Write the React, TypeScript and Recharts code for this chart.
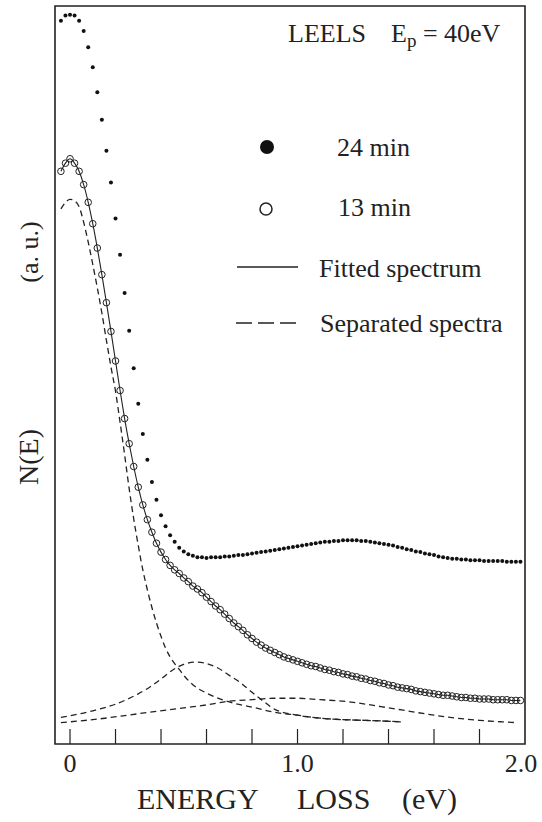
import { ComposedChart, Line, XAxis, YAxis, ReferenceArea } from 'recharts'

// energy grid of the measured points (eV)
const energy = [
  -0.04, -0.02, 0, 0.02, 0.04, 0.06, 0.08, 0.1, 0.12, 0.14,
  0.16, 0.18, 0.2, 0.22, 0.24, 0.26, 0.28, 0.3, 0.32, 0.34,
  0.36, 0.38, 0.4, 0.42, 0.44, 0.46, 0.48, 0.5, 0.52, 0.54,
  0.56, 0.58, 0.6, 0.62, 0.64, 0.66, 0.68, 0.7, 0.72, 0.74,
  0.76, 0.78, 0.8, 0.82, 0.84, 0.86, 0.88, 0.9, 0.92, 0.94,
  0.96, 0.98, 1.0, 1.02, 1.04, 1.06, 1.08, 1.1, 1.12, 1.14,
  1.16, 1.18, 1.2, 1.22, 1.24, 1.26, 1.28, 1.3, 1.32, 1.34,
  1.36, 1.38, 1.4, 1.42, 1.44, 1.46, 1.48, 1.5, 1.52, 1.54,
  1.56, 1.58, 1.6, 1.62, 1.64, 1.66, 1.68, 1.7, 1.72, 1.74,
  1.76, 1.78, 1.8, 1.82, 1.84, 1.86, 1.88, 1.9, 1.92, 1.94,
  1.96, 1.98,
]

// 24 min (filled dots)
const min24 = [
  98.0, 98.7, 98.8, 98.7, 98.0, 96.6, 94.4, 91.7, 88.3, 84.6,
  80.4, 76.1, 71.2, 66.3, 61.1, 56.0, 50.9, 46.1, 42.0, 38.5,
  35.5, 33.1, 31.0, 29.5, 28.3, 27.4, 26.6, 26.1, 25.7, 25.5,
  25.3, 25.3, 25.2, 25.3, 25.3, 25.3, 25.4, 25.4, 25.5, 25.6,
  25.6, 25.7, 25.8, 25.9, 26.0, 26.1, 26.2, 26.3, 26.4, 26.5,
  26.6, 26.7, 26.8, 26.9, 27.0, 27.1, 27.2, 27.3, 27.4, 27.4,
  27.5, 27.5, 27.6, 27.6, 27.6, 27.6, 27.5, 27.5, 27.4, 27.3,
  27.2, 27.1, 27.0, 26.9, 26.7, 26.6, 26.4, 26.3, 26.1, 26.0,
  25.8, 25.7, 25.6, 25.4, 25.3, 25.2, 25.1, 25.1, 25.0, 25.0,
  24.9, 24.9, 24.9, 24.8, 24.8, 24.8, 24.8, 24.8, 24.7, 24.7,
  24.7, 24.7,
]

// 13 min (open circles)
const min13 = [
  77.6, 78.7, 79.3, 78.7, 77.6, 75.8, 73.4, 70.5, 67.2, 63.6,
  59.8, 55.9, 51.9, 47.9, 44.1, 40.7, 37.6, 34.8, 32.4, 30.4,
  28.7, 27.2, 26.0, 25.0, 24.2, 23.6, 23.1, 22.5, 22.0, 21.4,
  21.0, 20.5, 19.9, 19.3, 18.7, 18.2, 17.6, 17.0, 16.4, 15.9,
  15.4, 14.8, 14.3, 13.8, 13.4, 13.0, 12.7, 12.4, 12.1, 11.8,
  11.6, 11.4, 11.2, 11.0, 10.8, 10.6, 10.5, 10.3, 10.1, 10.0,
  9.8, 9.7, 9.5, 9.4, 9.2, 9.1, 8.9, 8.8, 8.6, 8.5,
  8.3, 8.2, 8.0, 7.9, 7.7, 7.6, 7.5, 7.4, 7.2, 7.1,
  7.0, 6.9, 6.8, 6.7, 6.6, 6.6, 6.5, 6.4, 6.3, 6.3,
  6.2, 6.2, 6.1, 6.1, 6.1, 6.0, 6.0, 6.0, 6.0, 5.9,
  5.9, 5.9,
]

// fitted spectrum follows the 13 min points
const fitted = min13

// separated spectra (dashed)
const elasticE = [-0.04, -0.02, 0, 0.02, 0.04, 0.06, 0.08, 0.1, 0.12, 0.14, 0.16, 0.18, 0.2, 0.22, 0.24, 0.26, 0.28, 0.3, 0.32, 0.34, 0.36, 0.38, 0.4, 0.42, 0.44, 0.46, 0.48, 0.5, 0.55, 0.6, 0.7, 0.8, 0.9, 1.0, 1.1, 1.2, 1.3, 1.46]
const elasticV = [72.5, 73.4, 73.8, 73.6, 72.8, 70.7, 68.0, 65.0, 61.8, 58.4, 54.7, 51.1, 47.8, 43.6, 39.2, 34.6, 30.5, 26.9, 23.6, 20.9, 18.5, 16.4, 14.6, 13.0, 11.8, 10.9, 10.1, 9.3, 7.8, 6.9, 5.7, 5.0, 4.3, 3.9, 3.5, 3.3, 3.2, 3.0]
const peakE = [-0.04, 0.1, 0.2, 0.3, 0.35, 0.4, 0.45, 0.5, 0.55, 0.6, 0.65, 0.7, 0.75, 0.8, 0.85, 0.9, 1.0, 1.1, 1.2, 1.3, 1.46]
const peakV = [3.6, 4.5, 5.4, 6.8, 7.7, 8.8, 10.0, 10.8, 11.1, 10.9, 10.3, 9.3, 8.3, 7.0, 5.8, 4.7, 3.9, 3.5, 3.3, 3.2, 3.0]
const broadE = [-0.04, 0.1, 0.3, 0.5, 0.6, 0.7, 0.8, 0.9, 1.0, 1.1, 1.2, 1.3, 1.4, 1.5, 1.6, 1.7, 1.8, 1.9, 1.96]
const broadV = [2.9, 3.3, 4.1, 4.9, 5.3, 5.8, 6.0, 6.2, 6.2, 6.0, 5.8, 5.4, 4.9, 4.4, 3.9, 3.5, 3.2, 3.0, 2.9]

const xTicks = [0, 0.2, 0.4, 0.6, 0.8, 1.0, 1.2, 1.4, 1.6, 1.8, 2.0]
const xTickLabels = ['0', '', '', '', '', '1.0', '', '', '', '', '2.0']

const spectra = energy.map((e, i) => ({ e, min24: min24[i], min13: min13[i], fit: fitted[i] }))
const toPts = (xs: number[], ys: number[]) => xs.map((e, i) => ({ e, v: ys[i] }))

const INK = '#222'
const FONT = '"Liberation Serif", "Times New Roman", serif'

const EnergyTick = (props: any) => {
  const { x, y, index } = props
  const label = xTickLabels[index]
  // last label sits a little inside the frame corner
  const lx = index === xTickLabels.length - 1 ? x - 4 : x
  return (
    <g>
      {index < xTickLabels.length - 1 ? (
        <line x1={x} x2={x} y1={y} y2={y - 15} stroke={INK} strokeWidth={1.2} />
      ) : null}
      {label ? (
        <text x={lx} y={y + 28} textAnchor="middle" fontFamily={FONT} fontSize={26} fill={INK}>
          {label}
        </text>
      ) : null}
    </g>
  )
}

export default function App() {
  return (
    <div style={{ position: 'absolute', left: 0, top: 0, width: 542, height: 822, background: '#fff' }}>
      <ComposedChart width={542} height={822} data={spectra} margin={{ top: 6, right: 17, left: 55, bottom: 48 }}>
        <XAxis
          dataKey="e"
          type="number"
          domain={[-0.066, 2.0]}
          allowDataOverflow
          ticks={xTicks}
          interval={0}
          axisLine={false}
          tickLine={false}
          tickSize={0}
          tickMargin={0}
          tick={<EnergyTick />}
        />
        <YAxis type="number" domain={[0, 100]} hide allowDataOverflow />
        <ReferenceArea x1={-0.066} x2={2.0} y1={0} y2={100} fill="none" fillOpacity={0} stroke={INK} strokeWidth={1.6} />
        <Line data={toPts(elasticE, elasticV)} dataKey="v" type="monotone" stroke={INK} strokeWidth={1.3} strokeDasharray="6 4" dot={false} isAnimationActive={false} />
        <Line data={toPts(peakE, peakV)} dataKey="v" type="monotone" stroke={INK} strokeWidth={1.3} strokeDasharray="6 4" dot={false} isAnimationActive={false} />
        <Line data={toPts(broadE, broadV)} dataKey="v" type="monotone" stroke={INK} strokeWidth={1.3} strokeDasharray="6 4" dot={false} isAnimationActive={false} />
        <Line dataKey="fit" type="monotone" stroke={INK} strokeWidth={1.1} dot={false} isAnimationActive={false} />
        <Line dataKey="min13" stroke="none" dot={{ r: 3.3, fill: 'none', stroke: INK, strokeWidth: 1 }} isAnimationActive={false} />
        <Line dataKey="min24" stroke="none" dot={{ r: 2, fill: '#111', stroke: 'none' }} isAnimationActive={false} />
      </ComposedChart>
      <svg width={542} height={822} style={{ position: 'absolute', left: 0, top: 0, pointerEvents: 'none' }}>
        <g fontFamily={FONT} fill={INK}>
          <text x={288} y={42} fontSize={26}>LEELS</text>
          <text x={391} y={42} fontSize={26}>
            E<tspan dy={5} fontSize={19}>p</tspan><tspan dy={-5}> = 40eV</tspan>
          </text>
          <circle cx={267} cy={147} r={7} fill="#111" />
          <text x={337} y={156} fontSize={26}>24 min</text>
          <circle cx={266} cy={209} r={6} fill="none" stroke={INK} strokeWidth={1.5} />
          <text x={338} y={216} fontSize={26}>13 min</text>
          <line x1={237} x2={298} y1={267} y2={267} stroke={INK} strokeWidth={1.3} />
          <text x={319} y={277} fontSize={26}>Fitted spectrum</text>
          <line x1={236} x2={297} y1={323} y2={323} stroke={INK} strokeWidth={1.3} strokeDasharray="16 6" />
          <text x={320} y={332} fontSize={26}>Separated spectra</text>
          <text x={137} y={809} fontSize={30}>ENERGY</text>
          <text x={297} y={809} fontSize={30}>LOSS</text>
          <text x={402} y={809} fontSize={30}>(eV)</text>
          <text transform="translate(38 457) rotate(-90)" textAnchor="middle" fontSize={28}>N(E)</text>
          <text transform="translate(38 252) rotate(-90)" textAnchor="middle" fontSize={26}>(a. u.)</text>
        </g>
      </svg>
    </div>
  )
}
